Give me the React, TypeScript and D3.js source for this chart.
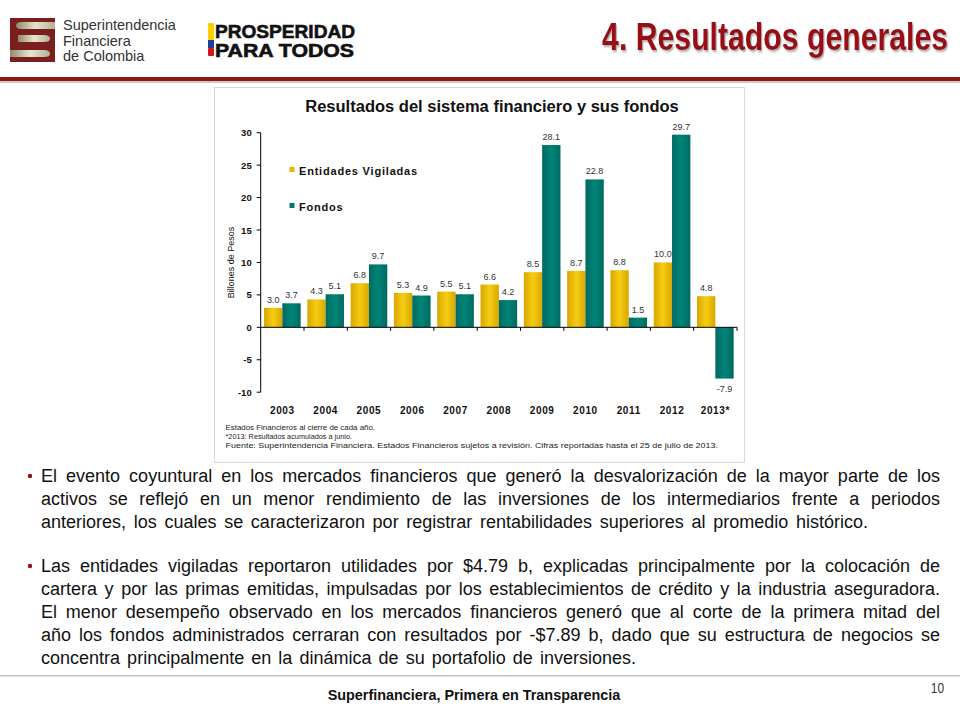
import React from 'react';
import * as d3 from 'd3';

const years = ['2003', '2004', '2005', '2006', '2007', '2008', '2009', '2010', '2011', '2012', '2013*'];
const entidades = [3.0, 4.3, 6.8, 5.3, 5.5, 6.6, 8.5, 8.7, 8.8, 10.0, 4.8];
const fondos = [3.7, 5.1, 9.7, 4.9, 5.1, 4.2, 28.1, 22.8, 1.5, 29.7, -7.9];
const yTicks = [-10, -5, 0, 5, 10, 15, 20, 25, 30];
const seriesNames = ['Entidades Vigiladas', 'Fondos'];
const chartTitle = 'Resultados del sistema financiero y sus fondos';
const yLabel = 'Billones de Pesos';
const pageTitle = '4. Resultados generales';
const footerText = 'Superfinanciera, Primera en Transparencia';
const footnotes = [
  { t: 'Estados Financieros al cierre de cada año.', end: 375 },
  { t: '*2013: Resultados acumulados a junio.', end: 352 },
  { t: 'Fuente: Superintendencia Financiera. Estados Financieros sujetos a revisión. Cifras reportadas hasta el 25 de julio de 2013.', end: 718 },
];
const bulletLines = [
  { t: 'El evento coyuntural en los mercados financieros que generó la desvalorización de la mayor parte de los', end: 940, bullet: true },
  { t: 'activos se reflejó en un menor rendimiento de las inversiones de los intermediarios frente a periodos', end: 940 },
  { t: 'anteriores, los cuales se caracterizaron por registrar rentabilidades superiores al promedio histórico.', end: 868 },
  { t: 'Las entidades vigiladas reportaron utilidades por $4.79 b, explicadas principalmente por la colocación de', end: 940, bullet: true, gap: true },
  { t: 'cartera y por las primas emitidas, impulsadas por los establecimientos de crédito y la industria aseguradora.', end: 940 },
  { t: 'El menor desempeño observado en los mercados financieros generó que al corte de la primera mitad del', end: 940 },
  { t: 'año los fondos administrados cerraran con resultados por -$7.89 b, dado que su estructura de negocios se', end: 940 },
  { t: 'concentra principalmente en la dinámica de su portafolio de inversiones.', end: 636 },
];

const YELLOW = '#E8B900';
const TEAL = '#00786E';
const DARKRED = '#980D12';

let ctx: CanvasRenderingContext2D | null = null;
function measure(text: string, font: string): number {
  if (!ctx) {
    const c = document.createElement('canvas');
    ctx = c.getContext('2d');
  }
  if (!ctx) return text.length * 8;
  ctx.font = font;
  return ctx.measureText(text).width;
}

export default function App() {
  const left = 260.7, right = 737, top = 132.7, bottom = 392.2;
  const y = d3.scaleLinear().domain([-10, 30]).range([bottom, top]);
  const x0 = d3.scaleBand().domain(years).range([left, right]).paddingInner(0).paddingOuter(0);
  const bw = x0.bandwidth();
  const barW = bw * 0.423;
  const x1 = d3.scaleBand().domain(seriesNames).range([(bw - 2 * barW) / 2, (bw + 2 * barW) / 2]).padding(0);
  const seriesVals = [entidades, fondos];
  const fills = ['url(#gY)', 'url(#gT)'];
  const bodyFont = 'Arial, "Liberation Sans", sans-serif';

  const last = bulletLines[bulletLines.length - 1];
  const nat16 = measure(last.t, `16px ${bodyFont}`);
  const bodySize = Math.min(18, Math.max(14, 16 * (last.end - 41) / nat16));
  let baseY = 482;
  const lineYs: number[] = [];
  bulletLines.forEach((l, i) => {
    if (i > 0) baseY += l.gap ? 44 : 23;
    lineYs.push(baseY);
  });
  const wordSp = bulletLines.map(l => {
    const nat = measure(l.t, `${bodySize}px ${bodyFont}`);
    const spaces = (l.t.match(/ /g) || []).length;
    return spaces ? (l.end - 41 - nat) / spaces : 0;
  });
  const titleSX = Math.min(1, 346 / measure(pageTitle, `bold 39px ${bodyFont}`));
  const footSX = Math.min(1, 293 / measure(footerText, `bold 15px ${bodyFont}`));
  const chartTitleSize = Math.min(18, Math.max(14, 16 * 374 / measure(chartTitle, `bold 16px ${bodyFont}`)));

  return (
    <svg width={960} height={720} style={{ position: 'absolute', left: 0, top: 0, background: '#fff' }} fontFamily={bodyFont}>
      <defs>
        <linearGradient id="gY" x1="0" x2="1" y1="0" y2="0">
          <stop offset="0" stopColor="#D8A700" />
          <stop offset="0.5" stopColor="#F6CD12" />
          <stop offset="1" stopColor="#D8A700" />
        </linearGradient>
        <linearGradient id="gT" x1="0" x2="1" y1="0" y2="0">
          <stop offset="0" stopColor="#006A61" />
          <stop offset="0.5" stopColor="#008478" />
          <stop offset="1" stopColor="#006A61" />
        </linearGradient>
        <linearGradient id="gS" x1="0" x2="1" y1="0" y2="0">
          <stop offset="0" stopColor="#8E8A6A" />
          <stop offset="0.5" stopColor="#E8E5CF" />
          <stop offset="1" stopColor="#B5B093" />
        </linearGradient>
        <filter id="shadow" x="-10%" y="-50%" width="120%" height="200%">
          <feDropShadow dx="1.5" dy="2" stdDeviation="1" floodColor="#777" floodOpacity="0.6" />
        </filter>
      </defs>

      {/* Header logos */}
      <rect x={10} y={18} width={45} height={44} fill="#7A1E1E" />
      <path d="M22 22 H55 V29 H22 Q16 29 16 25.5 Q16 22 22 22 Z" fill="url(#gS)" />
      <path d="M18 35 H44 Q50 35 50 38.5 Q50 42 44 42 H18 Z" fill="url(#gS)" />
      <path d="M10 50 H44 Q50 50 50 54 Q50 57 44 57 H10 Z" fill="url(#gS)" />
      <g fontSize={14.5} fill="#333">
        <text x={63} y={30}>Superintendencia</text>
        <text x={63} y={46}>Financiera</text>
        <text x={63} y={61}>de Colombia</text>
      </g>
      <rect x={208} y={23} width={6} height={17} fill="#F6D000" rx={1} />
      <rect x={208} y={40} width={6} height={8} fill="#1F3D99" />
      <rect x={208} y={48} width={6} height={8} fill="#D0161E" rx={1} />
      <g fontSize={19} fontWeight={900} fill="#111" stroke="#111" strokeWidth={0.6}>
        <text x={215} y={38} textLength={140} lengthAdjust="spacingAndGlyphs">PROSPERIDAD</text>
        <text x={215} y={57} textLength={139} lengthAdjust="spacingAndGlyphs">PARA TODOS</text>
      </g>
      <g transform={`translate(948,50) scale(${titleSX},1)`} filter="url(#shadow)">
        <text x={0} y={0} textAnchor="end" fontSize={39} fontWeight="bold" fill={DARKRED}>{pageTitle}</text>
      </g>
      <rect x={0} y={81} width={960} height={2} fill="#ccc" />
      <rect x={0} y={77} width={960} height={4} fill="#8C1818" />

      {/* Chart frame */}
      <rect x={214.5} y={87.5} width={530} height={375} fill="#fff" stroke="#d9d9d9" />
      <text x={492} y={112} textAnchor="middle" fontSize={chartTitleSize} fontWeight="bold" fill="#111">{chartTitle}</text>

      {/* Bars */}
      {years.map((yr, i) => (
        <g key={yr} transform={`translate(${x0(yr)},0)`}>
          {seriesNames.map((s, k) => {
            const v = seriesVals[k][i];
            const bx = x1(s) as number;
            const y0 = y(Math.max(0, v));
            const h = Math.abs(y(v) - y(0));
            return (
              <g key={s}>
                <rect x={bx} y={y0} width={x1.bandwidth()} height={h} fill={fills[k]} />
                <text x={bx + x1.bandwidth() / 2} y={v >= 0 ? y(v) - 5 : y(v) + 13} textAnchor="middle" fontSize={9} fill="#333">{v.toFixed(1)}</text>
              </g>
            );
          })}
          <text x={bw / 2} y={414} textAnchor="middle" fontSize={10} fontWeight="bold" fill="#111" letterSpacing={0.6}>{yr}</text>
        </g>
      ))}

      {/* Axes */}
      <line x1={left} x2={left} y1={top} y2={bottom} stroke="#000" />
      {yTicks.map(t => (
        <g key={t}>
          <line x1={left - 4} x2={left} y1={y(t)} y2={y(t)} stroke="#000" />
          <text x={left - 9} y={y(t) + 3.5} textAnchor="end" fontSize={9.5} fontWeight="bold" fill="#111">{t}</text>
        </g>
      ))}
      <line x1={left} x2={right} y1={y(0)} y2={y(0)} stroke="#000" />
      {years.map(yr => (
        <line key={yr} x1={(x0(yr) as number) + bw} x2={(x0(yr) as number) + bw} y1={y(0)} y2={y(0) + 3.5} stroke="#000" />
      ))}
      <text transform={`translate(234,${y(10)}) rotate(-90)`} textAnchor="middle" fontSize={9} fill="#111">{yLabel}</text>

      {/* Legend */}
      {seriesNames.map((s, k) => (
        <g key={s}>
          <rect x={289.5} y={167 + k * 36} width={5} height={5} fill={k === 0 ? YELLOW : TEAL} />
          <text x={299} y={175 + k * 36} fontSize={11} fontWeight="bold" fill="#111" letterSpacing={0.8}>{s}</text>
        </g>
      ))}

      {/* Footnotes */}
      {footnotes.map((f, i) => (
        <text key={i} x={225.5} y={430 + i * 9} fontSize={6.5} fill="#222" textLength={f.end - 225.5} lengthAdjust="spacingAndGlyphs">{f.t}</text>
      ))}

      {/* Body text */}
      {bulletLines.map((l, i) => (
        <g key={i}>
          {l.bullet && <circle cx={30} cy={lineYs[i] - 6} r={2.2} fill={DARKRED} />}
          <text x={41} y={lineYs[i]} fontSize={bodySize} fill="#111" wordSpacing={wordSp[i]}>{l.t}</text>
        </g>
      ))}

      {/* Footer */}
      <rect x={0} y={675} width={960} height={1.5} fill="#c0c0c0" />
      <g transform={`translate(474,700) scale(${footSX},1)`}>
        <text x={0} y={0} textAnchor="middle" fontSize={15} fontWeight="bold" fill="#111">{footerText}</text>
      </g>
      <g transform="translate(944,693) scale(0.85,1)">
        <text x={0} y={0} textAnchor="end" fontSize={14} fill="#333">10</text>
      </g>
    </svg>
  );
}
